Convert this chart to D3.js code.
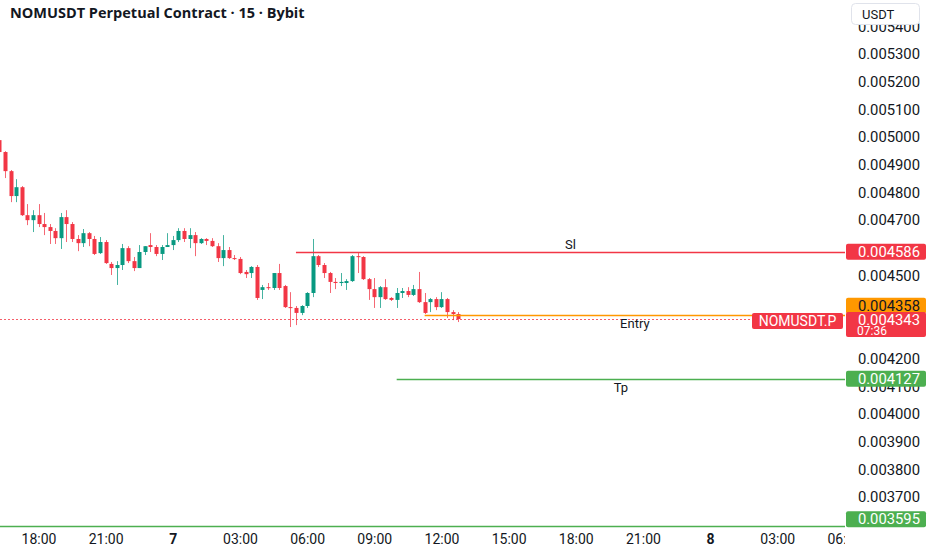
<!DOCTYPE html>
<html>
<head>
<meta charset="utf-8">
<script src="https://cdn.jsdelivr.net/npm/d3@7"></script>
<style>
  body { margin: 0; background: #fff; }
  svg { display: block; font-family: Roboto, "Noto Sans", sans-serif; }
</style>
</head>
<body>
<div class="canvas"></div>
<script>
// 15 min bars, first one (cut off at the left edge) opens at 16:15 on the 6th
const firstBar = "2025-06-06T16:15:00";
const opens = [
  0.004989, 0.004946, 0.004877, 0.004787, 0.004819, 0.004718, 0.004700, 0.004718, 0.004686, 0.004675,
  0.004661, 0.004635, 0.004711, 0.004686, 0.004632, 0.004617, 0.004653, 0.004632, 0.004581, 0.004621,
  0.004542, 0.004527, 0.004538, 0.004599, 0.004552, 0.004527, 0.004585, 0.004610, 0.004603, 0.004578,
  0.004603, 0.004610, 0.004628, 0.004661, 0.004632, 0.004646, 0.004617, 0.004632, 0.004625, 0.004606,
  0.004563, 0.004592, 0.004563, 0.004560, 0.004513, 0.004509, 0.004531, 0.004448, 0.004458, 0.004455,
  0.004509, 0.004462, 0.004386, 0.004383, 0.004365, 0.004390, 0.004437, 0.004570, 0.004538, 0.004509,
  0.004477, 0.004473, 0.004473, 0.004480, 0.004570, 0.004567, 0.004487, 0.004451, 0.004422, 0.004458,
  0.004419, 0.004412, 0.004437, 0.004444, 0.004430, 0.004451, 0.004404, 0.004404, 0.004415, 0.004386,
  0.004415, 0.004368, 0.004361
];
const highs = [
  0.005007, 0.004949, 0.004881, 0.004848, 0.004823, 0.004758, 0.004736, 0.004758, 0.004726, 0.004686,
  0.004671, 0.004726, 0.004736, 0.004693, 0.004646, 0.004668, 0.004657, 0.004643, 0.004639, 0.004628,
  0.004549, 0.004552, 0.004614, 0.004606, 0.004567, 0.004610, 0.004606, 0.004653, 0.004610, 0.004610,
  0.004653, 0.004643, 0.004671, 0.004671, 0.004671, 0.004657, 0.004635, 0.004635, 0.004635, 0.004617,
  0.004646, 0.004603, 0.004574, 0.004567, 0.004520, 0.004534, 0.004538, 0.004466, 0.004473, 0.004509,
  0.004542, 0.004466, 0.004440, 0.004390, 0.004393, 0.004440, 0.004632, 0.004574, 0.004545, 0.004513,
  0.004491, 0.004509, 0.004487, 0.004574, 0.004581, 0.004570, 0.004491, 0.004491, 0.004462, 0.004487,
  0.004422, 0.004455, 0.004455, 0.004458, 0.004466, 0.004513, 0.004437, 0.004419, 0.004422, 0.004440,
  0.004419, 0.004375, 0.004368
];
const lows = [
  0.004939, 0.004852, 0.004765, 0.004765, 0.004715, 0.004682, 0.004657, 0.004675, 0.004646, 0.004614,
  0.004614, 0.004596, 0.004621, 0.004621, 0.004588, 0.004603, 0.004606, 0.004574, 0.004578, 0.004542,
  0.004502, 0.004466, 0.004520, 0.004545, 0.004516, 0.004527, 0.004574, 0.004585, 0.004570, 0.004556,
  0.004603, 0.004592, 0.004621, 0.004621, 0.004599, 0.004570, 0.004614, 0.004610, 0.004603, 0.004549,
  0.004534, 0.004560, 0.004556, 0.004505, 0.004491, 0.004491, 0.004412, 0.004415, 0.004448, 0.004448,
  0.004448, 0.004383, 0.004314, 0.004321, 0.004357, 0.004383, 0.004422, 0.004531, 0.004491, 0.004437,
  0.004451, 0.004462, 0.004448, 0.004477, 0.004509, 0.004484, 0.004412, 0.004383, 0.004383, 0.004412,
  0.004408, 0.004383, 0.004419, 0.004422, 0.004426, 0.004401, 0.004361, 0.004368, 0.004375, 0.004383,
  0.004347, 0.004339, 0.004332
];
const closes = [
  0.004946, 0.004877, 0.004787, 0.004819, 0.004718, 0.004700, 0.004718, 0.004686, 0.004675, 0.004661,
  0.004635, 0.004711, 0.004686, 0.004632, 0.004617, 0.004653, 0.004632, 0.004578, 0.004621, 0.004545,
  0.004527, 0.004538, 0.004599, 0.004552, 0.004527, 0.004585, 0.004606, 0.004603, 0.004578, 0.004603,
  0.004610, 0.004628, 0.004661, 0.004632, 0.004646, 0.004617, 0.004632, 0.004625, 0.004606, 0.004563,
  0.004592, 0.004563, 0.004560, 0.004509, 0.004505, 0.004531, 0.004419, 0.004458, 0.004455, 0.004509,
  0.004455, 0.004386, 0.004383, 0.004365, 0.004390, 0.004437, 0.004570, 0.004538, 0.004509, 0.004477,
  0.004473, 0.004477, 0.004480, 0.004570, 0.004567, 0.004487, 0.004451, 0.004422, 0.004458, 0.004415,
  0.004412, 0.004437, 0.004444, 0.004430, 0.004451, 0.004404, 0.004365, 0.004415, 0.004386, 0.004415,
  0.004368, 0.004361, 0.004343
];

// axis ticks (the ones hidden behind the price tags are left out)
const priceTicks = [0.0037, 0.0038, 0.0039, 0.0040, 0.0041, 0.0042,
  0.0045, 0.0047, 0.0048, 0.0049, 0.0050, 0.0051, 0.0052, 0.0053, 0.0054];
const timeTicks = ["2025-06-06T18:00", "2025-06-06T21:00", "2025-06-07T00:00", "2025-06-07T03:00",
  "2025-06-07T06:00", "2025-06-07T09:00", "2025-06-07T12:00", "2025-06-07T15:00", "2025-06-07T18:00",
  "2025-06-07T21:00", "2025-06-08T00:00", "2025-06-08T03:00", "2025-06-08T06:00"];

// drawn levels
const levelNames = ["Sl", "Entry", "Tp"];
const levelPrices = [0.004586, 0.004358, 0.004127];
const levelStarts = ["2025-06-07T05:30", "2025-06-07T11:15", "2025-06-07T10:00"];
const levelColors = ["#f23645", "#ff9800", "#4caf50"];
const baseLine = 0.003595;
const lastPrice = 0.004343;
const countdown = "07:36";
const symbol = "NOMUSDT.P";
const title = "NOMUSDT Perpetual Contract · 15 · Bybit";

const dims = { width: 932, height: 550, paneRight: 845 };
const up = "#089981", down = "#f23645", ink = "#131722";
const fmtPrice = d3.format(".6f");

const svg = d3.select(".canvas").append("svg")
  .attr("width", dims.width)
  .attr("height", dims.height);

// scales
const x = d3.scaleTime()
  .domain([new Date("2025-06-06T18:00"), new Date("2025-06-08T00:00")])
  .range([38.5, 710.1]);
const y = d3.scaleLinear().domain([0.004, 0.0053]).range([414, 54]);

svg.append("clipPath").attr("id", "pane")
  .append("rect").attr("width", dims.paneRight).attr("height", dims.height);

const bars = opens.map((o, i) => ({
  t: new Date(new Date(firstBar).getTime() + i * 15 * 60000),
  o, h: highs[i], l: lows[i], c: closes[i]
}));

const pane = svg.append("g").attr("clip-path", "url(#pane)");

// last price dotted line
const lpY = Math.round(y(lastPrice)) + 0.5;
pane.append("line")
  .attr("x1", 0).attr("x2", 752)
  .attr("y1", lpY).attr("y2", lpY)
  .attr("stroke", down).attr("stroke-opacity", 0.8).attr("stroke-dasharray", "2,2");

// candles
const candle = pane.selectAll("g.bar").data(bars).enter().append("g").attr("class", "bar");
candle.append("line")
  .attr("x1", d => Math.round(x(d.t)) + 0.5).attr("x2", d => Math.round(x(d.t)) + 0.5)
  .attr("y1", d => y(d.h)).attr("y2", d => y(d.l))
  .attr("stroke", d => (d.c >= d.o ? up : down)).attr("stroke-opacity", 0.75);
candle.append("rect")
  .attr("x", d => Math.round(x(d.t)) - 1.5)
  .attr("width", 4)
  .attr("y", d => y(Math.max(d.o, d.c)))
  .attr("height", d => Math.max(1, y(Math.min(d.o, d.c)) - y(Math.max(d.o, d.c))))
  .attr("fill", d => (d.c >= d.o ? up : down));

// horizontal levels
levelNames.forEach((name, i) => {
  const ly = Math.round(y(levelPrices[i])) + 0.5;
  const x0 = x(new Date(levelStarts[i]));
  pane.append("line")
    .attr("x1", x0).attr("x2", dims.paneRight)
    .attr("y1", ly).attr("y2", ly)
    .attr("stroke", levelColors[i]).attr("stroke-width", 1.5);
  pane.append("text")
    .attr("x", (x0 + dims.paneRight) / 2)
    .attr("y", i === 0 ? ly - 4 : ly + 12)
    .attr("text-anchor", "middle")
    .attr("font-size", 13).attr("fill", ink)
    .text(name);
});

// base line across the pane
const blY = Math.round(y(baseLine)) + 0.5;
pane.append("line")
  .attr("x1", 0).attr("x2", dims.paneRight)
  .attr("y1", blY).attr("y2", blY)
  .attr("stroke", "#4caf50").attr("stroke-width", 1.5);

// price axis
const yAxis = svg.append("g")
  .attr("transform", "translate(920,0)")
  .call(d3.axisRight(y).tickValues(priceTicks).tickSize(0).tickFormat(fmtPrice));
yAxis.select(".domain").remove();
yAxis.selectAll("text")
  .attr("x", 0).attr("text-anchor", "end")
  .attr("font-size", 14.8).attr("font-family", "Roboto").attr("fill", ink);

// time axis
const fmtTime = d3.timeFormat("%H:%M"), fmtDay = d3.timeFormat("%-d");
const xAxis = svg.append("g")
  .attr("clip-path", "url(#pane)")
  .attr("transform", "translate(0,532)")
  .call(d3.axisBottom(x).tickValues(timeTicks.map(s => new Date(s))).tickSize(0)
    .tickFormat(d => (d.getHours() === 0 ? fmtDay(d) : fmtTime(d))));
xAxis.select(".domain").remove();
xAxis.selectAll("text")
  .attr("y", 0).attr("dy", "0.85em")
  .attr("font-size", 14).attr("font-family", "Roboto").attr("fill", ink)
  .attr("font-weight", d => (d.getHours() === 0 ? 700 : 400));

// price tags on the axis
const tag = (cy, color, textColor, label) => {
  const g = svg.append("g");
  g.append("rect").attr("x", 846).attr("y", cy - 8).attr("width", 80).attr("height", 16)
    .attr("rx", 2).attr("fill", color);
  g.append("text").attr("x", 920).attr("y", cy + 5).attr("text-anchor", "end")
    .attr("font-size", 14.8).attr("fill", textColor).text(label);
};
tag(y(levelPrices[0]), levelColors[0], "#fff", fmtPrice(levelPrices[0]));
tag(y(levelPrices[2]), levelColors[2], "#fff", fmtPrice(levelPrices[2]));
tag(y(baseLine) - 7, "#4caf50", "#fff", fmtPrice(baseLine));
tag(y(levelPrices[1]) - 9, levelColors[1], ink, fmtPrice(levelPrices[1]));

// last price tag with countdown
const lp = y(lastPrice);
svg.append("rect").attr("x", 846).attr("y", lp - 7).attr("width", 80).attr("height", 25)
  .attr("rx", 2).attr("fill", down);
svg.append("text").attr("x", 920).attr("y", lp + 6).attr("text-anchor", "end")
  .attr("font-size", 14.8).attr("fill", "#fff").text(fmtPrice(lastPrice));
svg.append("text").attr("x", 857).attr("y", lp + 16)
  .attr("font-size", 12).attr("fill", "#fff").text(countdown);
svg.append("rect").attr("x", 752).attr("y", lp - 6).attr("width", 91).attr("height", 16)
  .attr("rx", 2).attr("fill", down);
svg.append("text").attr("x", 797.5).attr("y", lp + 7).attr("text-anchor", "middle")
  .attr("font-size", 14).attr("fill", "#fff").text(symbol);

// currency button
svg.append("rect").attr("x", 851.5).attr("y", 3.5).attr("width", 68).attr("height", 21)
  .attr("rx", 4).attr("fill", "#fff").attr("stroke", "#e0e3eb");
svg.append("text").attr("x", 862).attr("y", 19).attr("font-size", 13).attr("fill", ink).text("USDT");

// title
svg.append("text").attr("x", 10).attr("y", 18)
  .attr("font-family", "'Open Sans', sans-serif").attr("font-weight", 700)
  .attr("font-size", 14.5).attr("fill", ink).text(title);
</script>
</body>
</html>
